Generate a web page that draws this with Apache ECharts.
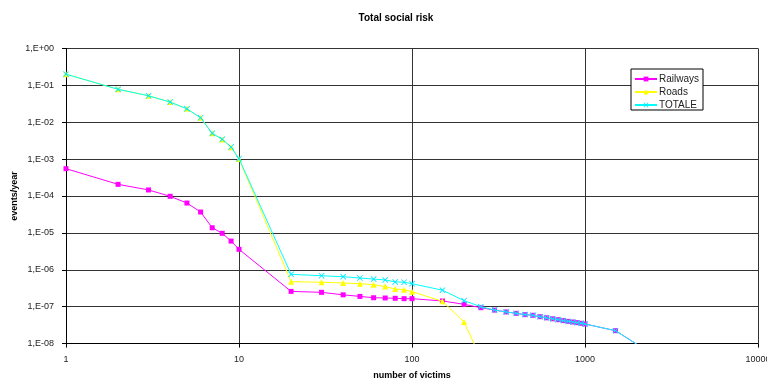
<!DOCTYPE html>
<html>
<head>
<meta charset="utf-8">
<script src="https://cdn.jsdelivr.net/npm/echarts@6/dist/echarts.min.js"></script>
<style>
html,body{margin:0;padding:0;background:#fff;}
#c{width:767px;height:379px;}
</style>
</head>
<body>
<div id="c"></div>
<script>
// victims (x) for each series
const railX = [1,2,3,4,5,6,7,8,9,10,20,30,40,50,60,70,80,90,100,150,200,250,300,350,400,450,500,550,600,650,700,750,800,850,900,950,1000,1500,2000];
const railY = [5.5e-4,2.07e-4,1.46e-4,9.8e-5,6.45e-5,3.68e-5,1.38e-5,9.75e-6,6.0e-6,3.59e-6,
  2.6e-7,2.45e-7,2.1e-7,1.9e-7,1.75e-7,1.72e-7,1.69e-7,1.65e-7,1.65e-7,1.43e-7,1.16e-7,9.4e-8,
  8.1e-8,7.2e-8,6.6e-8,6.1e-8,5.85e-8,5.36e-8,5.0e-8,4.7e-8,4.45e-8,4.2e-8,4.0e-8,3.85e-8,3.7e-8,3.55e-8,3.4e-8,
  2.24e-8,9.5e-9];

const roadX = [1,2,3,4,5,6,7,8,9,10,20,30,40,50,60,70,80,90,100,150,200,250];
const roadY = [0.2,0.078,0.052,0.035,0.023,0.0132,0.005,0.0034,0.0021,0.001,
  4.76e-7,4.6e-7,4.4e-7,4.2e-7,3.95e-7,3.5e-7,3.0e-7,2.9e-7,2.55e-7,1.4e-7,3.85e-8,4e-9];

const totX = [1,2,3,4,5,6,7,8,9,10,20,30,40,50,60,70,80,90,100,150,200,250,300,350,400,450,500,550,600,650,700,750,800,850,900,950,1000,1500,2000];
const totY = [0.2,0.078,0.052,0.035,0.023,0.0132,0.005,0.00344,0.00213,0.00103,
  7.55e-7,6.9e-7,6.5e-7,6.0e-7,5.6e-7,5.3e-7,4.7e-7,4.6e-7,4.2e-7,2.8e-7,1.46e-7,1.0e-7,
  8.1e-8,7.2e-8,6.6e-8,6.1e-8,5.85e-8,5.36e-8,5.0e-8,4.7e-8,4.45e-8,4.2e-8,4.0e-8,3.85e-8,3.7e-8,3.55e-8,3.4e-8,
  2.24e-8,9.5e-9];

const seriesNames = ['Railways','Roads','TOTALE'];
const titleText = 'Total social risk';
const xName = 'number of victims';
const yName = 'events/year';

function pairs(xs, ys){ return xs.map((x,i)=>[x, ys[i]]); }

const xSym = 'path://M0,1L1,0L5,4L9,0L10,1L6,5L10,9L9,10L5,6L1,10L0,9L4,5Z';
const font = 'Liberation Sans, Arial, sans-serif';

const chart = echarts.init(document.getElementById('c'), null, {renderer:'canvas'});
chart.setOption({
  animation:false,
  backgroundColor:'#fff',
  title:{
    text:titleText, left:391, top:8, textAlign:'center',
    textStyle:{fontFamily:font, fontSize:10, fontWeight:'bold', color:'#000'}
  },
  legend:{
    orient:'vertical', left:631, top:69,
    padding:[5,4,0,3], itemGap:3, itemWidth:22, itemHeight:6,
    backgroundColor:'#fff', borderColor:'#000', borderWidth:1,
    textStyle:{fontFamily:font, fontSize:10, color:'#222', lineHeight:10, padding:[0,0,0,-3]},
    data:seriesNames
  },
  grid:{left:66, right:9, top:48.4, bottom:35.4, containLabel:false, outerBoundsMode:'none'},
  xAxis:{
    type:'log', logBase:10, min:1, max:10000,
    name:xName, nameLocation:'middle', nameGap:27,
    nameTextStyle:{fontFamily:font, fontSize:9, fontWeight:'bold', color:'#000'},
    axisLine:{show:true, onZero:false, lineStyle:{color:'#000', width:1}},
    axisTick:{show:true, length:4, lineStyle:{color:'#000'}},
    axisLabel:{fontFamily:font, fontSize:9, color:'#222', margin:11, formatter:v=>String(Math.round(v))},
    splitLine:{show:true, lineStyle:{color:'#333', width:1}},
    minorTick:{show:false}, minorSplitLine:{show:false}
  },
  yAxis:{
    type:'log', logBase:10, min:1e-8, max:1, interval:1, splitNumber:8,
    name:yName, nameLocation:'middle', nameGap:47, nameRotate:90, nameMoveOverlap:false,
    nameTextStyle:{fontFamily:font, fontSize:9, fontWeight:'bold', color:'#000'},
    axisLine:{show:true, lineStyle:{color:'#000', width:1}},
    axisTick:{show:true, length:4, lineStyle:{color:'#000'}},
    axisLabel:{fontFamily:font, fontSize:9, color:'#222', margin:12,
      formatter:function(v){ const e=Math.round(Math.log10(v)); return '1,E'+(e<0?'-':'+')+String(Math.abs(e)).padStart(2,'0'); }},
    splitLine:{show:true, lineStyle:{color:'#333', width:1}}
  },
  series:[
    {name:seriesNames[0], type:'line', data:pairs(railX, railY), symbol:'rect', symbolSize:5,
     lineStyle:{color:'#ff00ff', width:1}, itemStyle:{color:'#ff00ff'}, clip:true, z:2},
    {name:seriesNames[1], type:'line', data:pairs(roadX, roadY), symbol:'triangle', symbolSize:6,
     lineStyle:{color:'#ffff00', width:1}, itemStyle:{color:'#ffff00'}, clip:true, z:3},
    {name:seriesNames[2], type:'line', data:pairs(totX, totY), symbol:xSym, symbolSize:6,
     lineStyle:{color:'#00ffff', width:1}, itemStyle:{color:'#00e5ff'}, clip:true, z:4}
  ]
});
</script>
</body>
</html>
